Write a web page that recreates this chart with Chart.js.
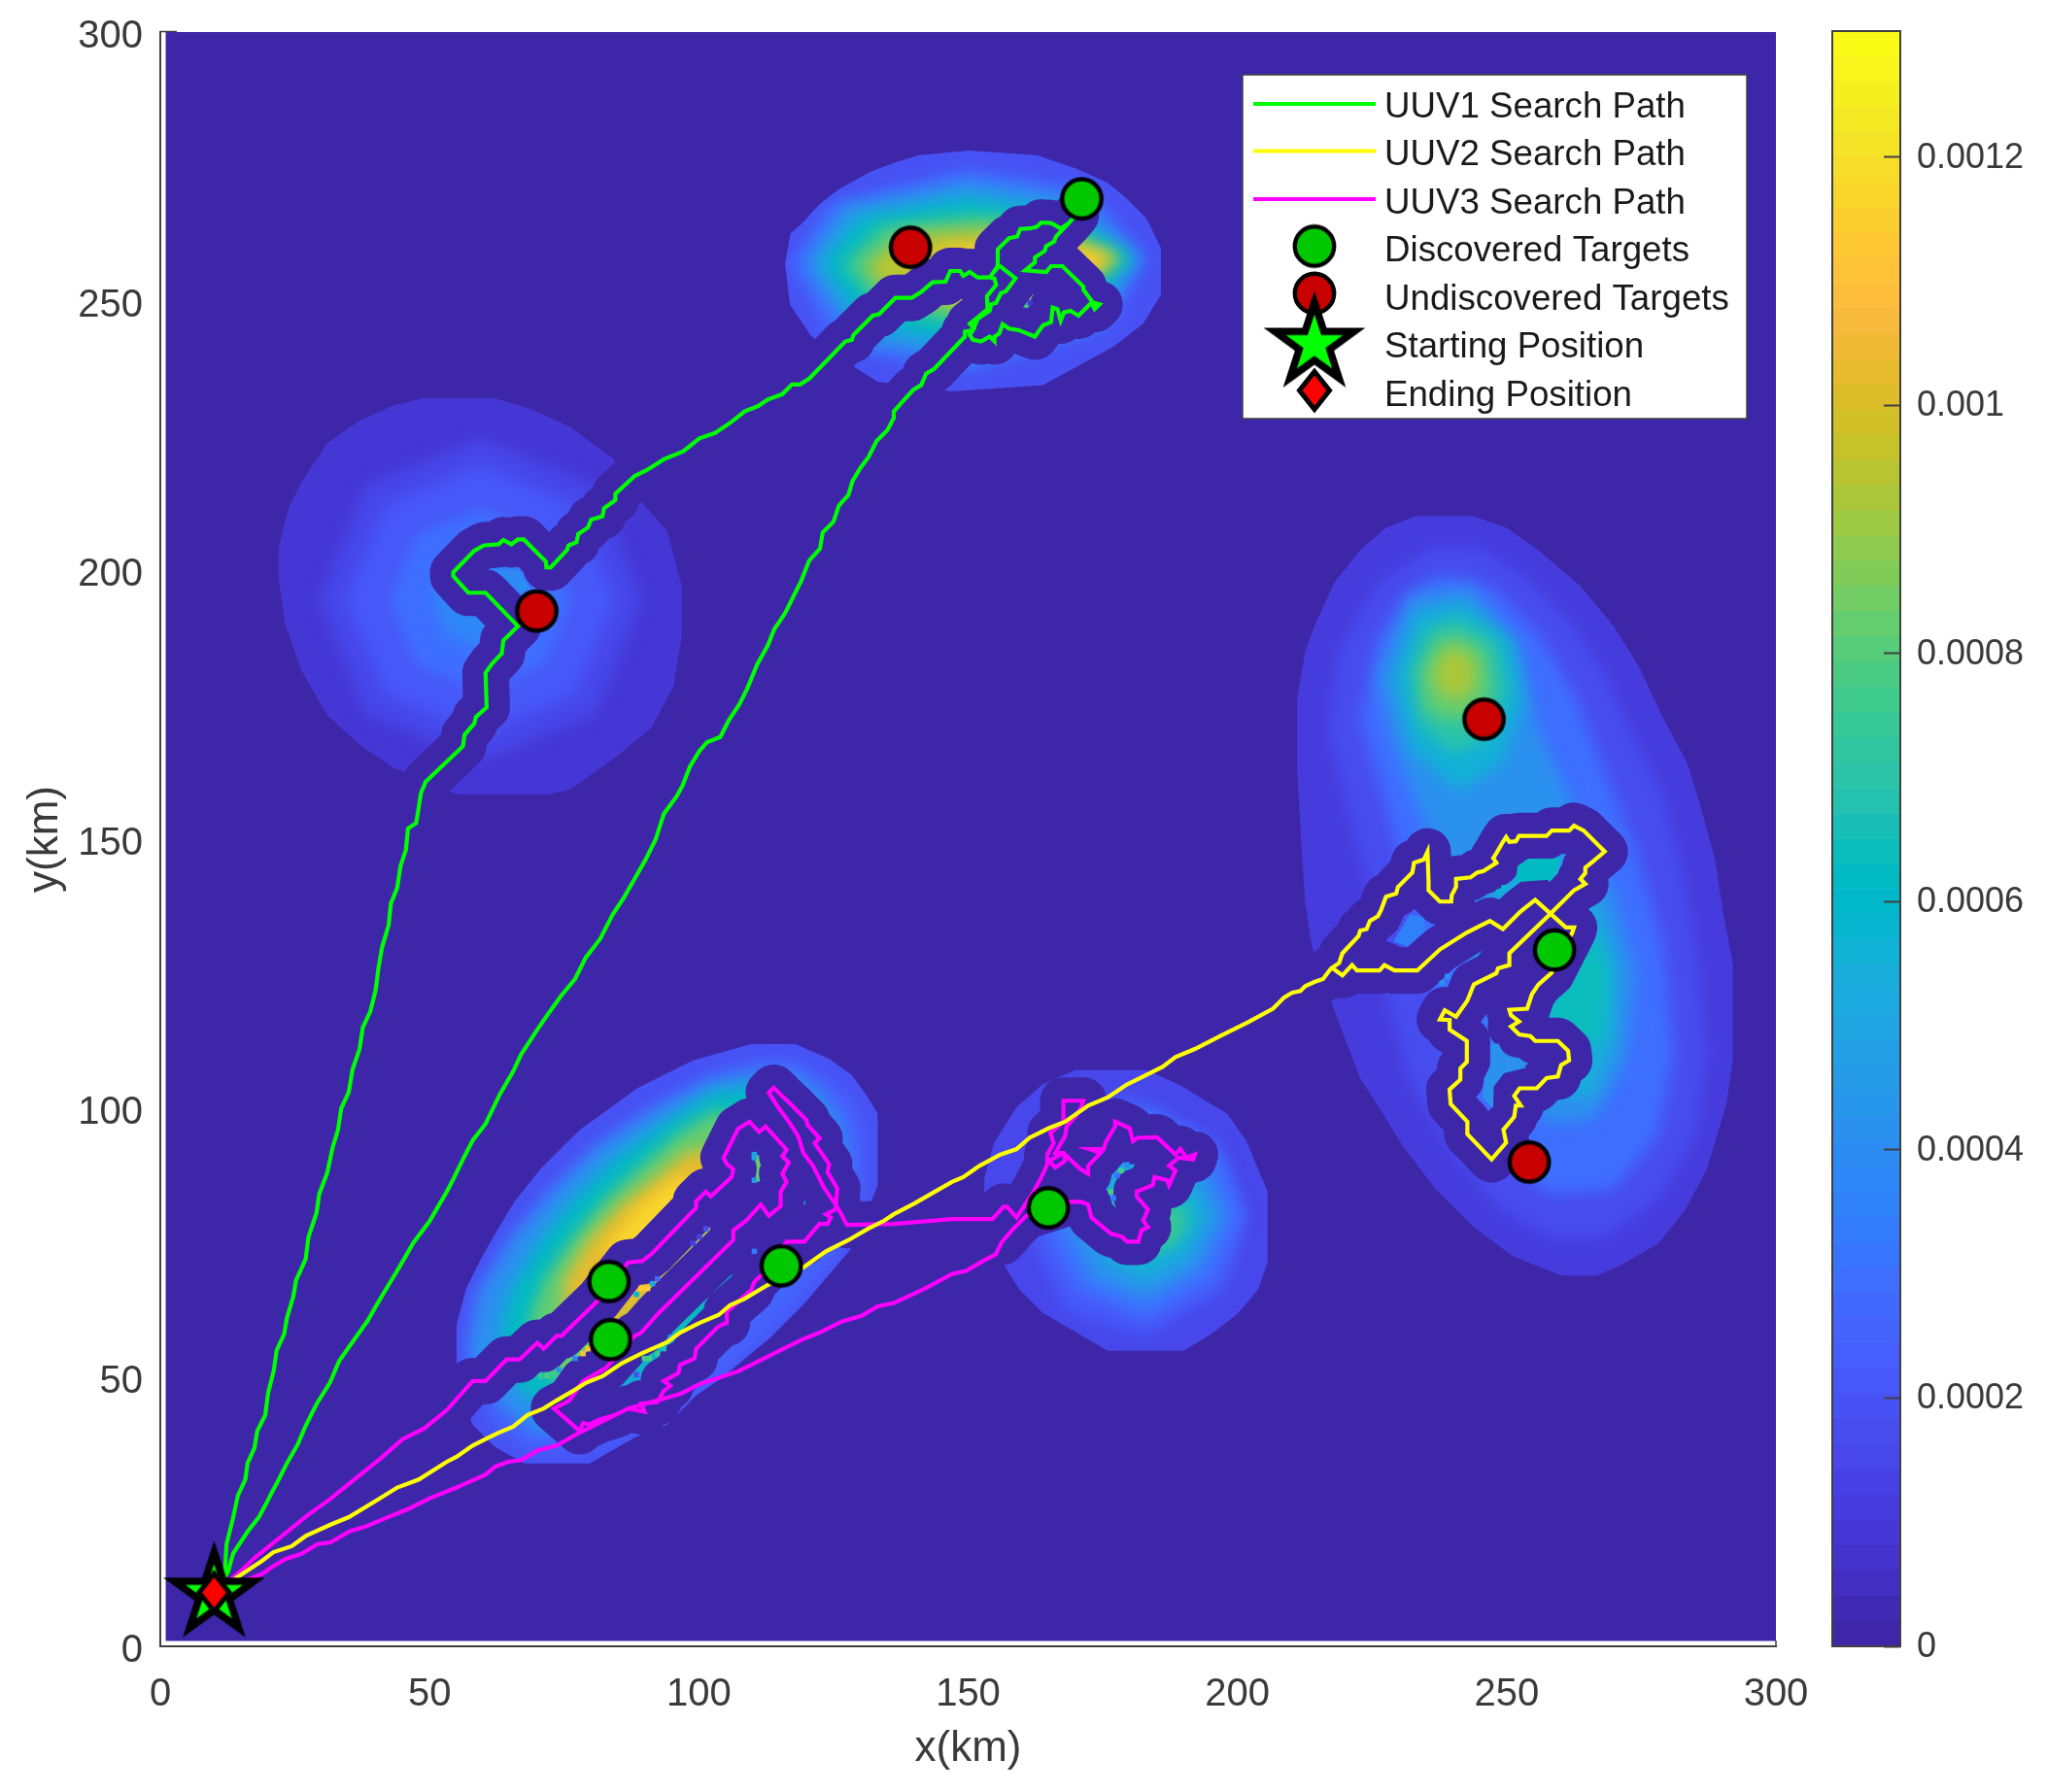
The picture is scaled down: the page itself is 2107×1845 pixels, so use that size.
<!DOCTYPE html>
<html><head><meta charset="utf-8">
<style>html,body{margin:0;padding:0;background:#fff;width:2107px;height:1845px;overflow:hidden}
canvas{position:absolute;top:0;display:block}</style>
<script src="https://cdn.jsdelivr.net/npm/chart.js@4/dist/chart.umd.js"></script>
</head><body>
<canvas id="main" width="2107" height="1845" style="left:0"></canvas>
<canvas id="bar" width="247" height="1845" style="left:1860px"></canvas>
<script>
// ---------- text ----------
const legendLabels = ['UUV1 Search Path','UUV2 Search Path','UUV3 Search Path','Discovered Targets','Undiscovered Targets','Starting Position','Ending Position'];
const xTitle = 'x(km)', yTitle = 'y(km)';
const colorbarTicks = [0,0.0002,0.0004,0.0006,0.0008,0.001,0.0012];
const colorbarMax = 0.0013017;
// ---------- colormap (64 steps) ----------
const parula = [[.2422,.1504,.6603],[.2504,.165,.7076],[.2578,.1818,.7511],[.2647,.1978,.7952],[.2706,.2147,.8364],[.2751,.2342,.871],[.2783,.2559,.8991],[.2803,.2782,.9221],[.2813,.3006,.9414],[.281,.3228,.9579],[.2795,.3447,.9717],[.276,.3667,.9829],[.2699,.3892,.9906],[.2602,.4123,.9952],[.244,.4358,.9988],[.2206,.4603,.9973],[.1963,.4847,.9892],[.1834,.5074,.9798],[.1786,.5289,.9682],[.1764,.5499,.952],[.1687,.5703,.9359],[.154,.5902,.9218],[.146,.6091,.9079],[.138,.6276,.8973],[.1248,.6459,.8883],[.1113,.6635,.8763],[.0952,.6798,.8598],[.0689,.6948,.8394],[.0297,.7082,.8163],[.0036,.7203,.7917],[.0067,.7312,.766],[.0433,.7411,.7394],[.0964,.75,.712],[.1408,.7584,.6842],[.1717,.767,.6554],[.1938,.7758,.6251],[.2161,.7843,.5923],[.247,.7918,.5567],[.2906,.7973,.5188],[.3406,.8008,.4789],[.3909,.8029,.4354],[.4456,.8024,.3909],[.5044,.7993,.348],[.5616,.7942,.3045],[.6174,.7876,.2612],[.672,.7793,.2227],[.7242,.7698,.191],[.7738,.7598,.1646],[.8203,.7498,.1535],[.8634,.7406,.1596],[.9035,.733,.1774],[.9393,.7288,.21],[.9728,.7298,.2394],[.9956,.7434,.2371],[.997,.7659,.2199],[.9952,.7893,.2028],[.9892,.8136,.1885],[.9786,.8386,.1766],[.9676,.8639,.1643],[.961,.889,.1537],[.9597,.9135,.1423],[.9628,.9373,.1265],[.9691,.9606,.1064],[.9769,.9839,.0805]];
const col = i => { const c = parula[i]; return `rgb(${Math.round(c[0]*255)},${Math.round(c[1]*255)},${Math.round(c[2]*255)})`; };
// ---------- search paths (km) ----------
const pathUUV1 = [[10,10],[12,14],[12.3,19],[13.5,23.8],[14.4,28],[15.8,31],[16.2,34],[17.5,36.9],[18,40],[19.5,43],[20,47],[21.1,51.4],[21.6,55],[23,58],[23.5,61],[24.7,65],[25.2,68],[27,72],[27.5,76],[29,80.5],[29.5,84],[31,88],[32,92.7],[33,96],[33.6,100],[35,103],[35.7,107.2],[37,111],[37.6,115],[39,118],[40,122],[40.5,126],[41.2,130],[42.4,134],[42.8,138],[44,141],[44.6,145],[45.6,148],[46,152],[47.5,153],[47.8,154.7],[48.4,158.6],[49.3,160.7],[56.2,167.3],[56.5,169.4],[58.3,171.5],[58.6,172.7],[60.6,174.5],[60.4,180.9],[61.6,182.6],[63.4,184.5],[63.7,186.9],[66.4,189.6],[60.4,195.8],[57.2,195.8],[54.4,198.9],[54.4,199.6],[58.3,203.6],[60.1,204.6],[62.8,204.8],[63.7,205.6],[65.2,204.8],[66.4,205.7],[67.5,205.7],[71.6,201.6],[71.7,200.5],[72.5,200.5],[75.5,203.7],[75.8,204.6],[77.3,205.2],[77.6,206.7],[79.4,207.9],[80,209.4],[82.1,210],[82.4,211.5],[84.5,213],[84.5,214.2],[88.1,217.5],[90.2,218.5],[93.5,220.6],[97.1,222.1],[100.1,224.5],[103,225.5],[106,227.5],[108.5,229.5],[111,230.5],[112.8,231.7],[115.5,232.7],[117.3,234.5],[118.8,234.5],[120.5,235.6],[127.2,242.5],[128.4,242.8],[128.7,243.7],[132.3,247.3],[133.5,247.6],[136.5,250.6],[139.5,250.6],[141.3,251.7],[143.4,253.5],[145.8,253.6],[146.7,255.6],[148.5,255.6],[149.1,254.7],[150.3,255.4],[151.8,254.4],[154,254.4],[155.5,256.5],[155.5,259.6],[157.6,261.7],[159.1,262],[159.7,263.4],[161.5,263.5],[162.7,263.8],[163.6,264.6],[165.4,264.5],[167.2,263.5],[168.7,264.5],[170,266],[168.7,264.5],[166.3,262],[166,261.1],[164.5,260.2],[164.2,259.3],[162.4,258.1],[162.4,257.2],[160.6,255.7],[164.5,255.4],[165.4,256.5],[167.5,256.5],[171.4,252.7],[171.4,252.1],[173.2,249.7],[174.4,249.4],[173.5,248.5],[172.9,249.7],[170.5,247.3],[169,248.2],[167.8,247.9],[167.2,246.4],[166.6,248.5],[165.7,248.8],[165.4,246.1],[163.9,245.5],[162.4,243.4],[159.4,244.6],[157.6,244.9],[156.4,245.7],[155.8,244],[154.9,243.4],[154.9,242.5],[154,243.4],[152.4,242.5],[150.9,242.8],[150.3,243.7],[151.1,244.9],[150.3,245.8],[151.8,247],[153.6,248.5],[153.5,250.9],[155.2,253],[154.9,254.2],[154,254.4],[155.8,256.6],[158.8,254.2],[157,251.8],[156.1,251.5],[155.2,249.7],[154.3,249.4],[154,248.2],[153.1,247.6],[151.8,246.7],[150.9,244.6],[149.4,244.3],[149.4,243.4],[143.7,237.4],[142.2,236.5],[141.3,234.4],[139.8,233.5],[136.2,229.5],[136.2,228.3],[135,226],[133,224],[131.5,221],[130,219],[128.5,216.5],[127.8,214],[126,212],[125,209],[123,207],[122.5,204],[120.5,201.8],[119,198],[117.5,195],[116,192],[114,189],[112.8,186],[110.8,182.4],[109,178],[107.5,175],[105.5,172],[104,169],[101.5,168],[100.1,166.4],[98.3,163.4],[97,160],[95.9,158],[93.5,154.7],[92,150],[90,146],[88,142.5],[86,139],[84,136],[81.7,131.5],[79,128],[77,124],[74.5,121],[72,117.5],[70,114.6],[67,110],[65.5,106.8],[63,102.5],[60.4,97.1],[58,94],[56.2,90.5],[54.5,87],[53.2,84.5],[50,79],[47,75],[45,71.5],[42.9,68],[40.5,64],[38.5,60.5],[36,57],[33.2,53],[31.5,49],[29,45],[27,41],[25.5,37.5],[23.5,34],[22,31],[20.4,28],[19.5,26.2],[18.3,24],[16.2,21.3],[13.5,17.2],[12.6,13.9],[10,10]];
const pathUUV2 = [[10,10],[18.9,15.9],[21,17.5],[24.4,18.6],[27,20.5],[31.6,22.6],[35,24],[40.6,27.4],[44,29.5],[48,31],[53.2,34.3],[55,35.2],[58,37.3],[60.4,38.5],[62.8,39.7],[65.5,40.8],[68.2,43],[71.2,44.2],[73.6,45.7],[76.7,47.5],[79.1,49],[82.1,50.2],[85.7,52.6],[89.3,54.4],[94.1,56.5],[96.5,58.3],[100.1,60.1],[103.7,61.6],[105.8,63.4],[108.5,64.6],[112.7,67.1],[119.4,70.4],[123.6,73.4],[127.8,75.5],[131.4,77.6],[134.4,79.1],[136.2,80.3],[140,82.3],[144,84.6],[147,86.3],[149.1,87.2],[152.1,89.3],[156,91.4],[159,92.4],[161.4,94.5],[165,96.3],[168,97.5],[172.3,100.5],[175.9,102],[179.5,104.4],[182.5,105.9],[186.1,107.7],[188.5,109.5],[192.1,111],[197,113.5],[202,116],[206.6,118.5],[208.7,120.6],[210.2,121.5],[211.7,121.8],[212.6,122.7],[214.4,123.5],[215.9,124],[217.4,126],[218.9,127],[219.5,128.8],[222.5,132],[222.8,133],[224,133.3],[224.6,134.8],[226.1,135.7],[226.7,136.9],[227.6,139.3],[229.5,139.9],[229.8,141.1],[232.5,143.8],[232.8,145.6],[234.6,146.2],[235.3,147.7],[235.5,142],[235.5,140.5],[237.6,138.4],[239.7,138.4],[239.8,139.6],[240.6,141.1],[240.6,142.6],[243.3,142.9],[244.5,143.8],[245.7,144.1],[248.1,145.6],[247.5,146.5],[248.1,147.4],[249.3,149.5],[249.9,150.4],[250.5,149.5],[251.7,149.6],[252.3,150.6],[257.4,150.6],[258.4,151.6],[261.6,151.6],[262.5,152.5],[264.3,151.6],[268.2,147.7],[266.1,145.9],[264.6,144.7],[264.6,143.7],[263.7,142.6],[264.6,141.7],[262.5,140.5],[258,136],[250.5,128.8],[250.5,126.6],[248.4,126],[248.1,125.1],[243.9,123],[242.7,120],[240.6,117],[238.5,118.2],[237.6,116.5],[239.4,116.4],[239.4,114.6],[242.6,112.5],[242.6,108.6],[241.4,107.4],[241.4,105.3],[239.4,103.5],[239.6,100.8],[242.7,97.5],[242.7,95.2],[247.2,90.5],[249.9,93.6],[249.4,96],[251.4,98.4],[251.7,100.5],[252.6,100.5],[251.4,102.3],[252.4,103.7],[255.6,103.7],[257.4,105.6],[259.5,105.9],[260.1,108],[261.6,108.9],[261.4,110.7],[259.5,112.5],[255.3,112.5],[254.4,113.4],[252.3,113.7],[250.8,115.2],[252.3,116.1],[250.8,117.3],[250.5,118.3],[253.8,118.5],[254.7,121.2],[255.9,123],[258.3,125.1],[262.2,132.7],[262.5,133.6],[261,133.6],[255.3,138.7],[252.6,136.6],[249.3,133.3],[246.9,134.8],[242.7,132.7],[237.6,129.5],[233.4,125.6],[229.2,125.6],[227.3,126.6],[226.4,125.6],[222.2,125.6],[221.3,126.6],[219.5,124.7],[217.7,126]];
const pathUUV3 = [[10,10],[14.4,13.5],[17.7,16.6],[22.6,20.5],[27.4,24.4],[31.6,27.4],[36,31],[41,35],[45,38.5],[49,40.5],[53.2,43.9],[58,49.3],[60.4,49.3],[64.3,53.3],[66.7,53.3],[70,56.4],[71.2,55.3],[73.6,57.7],[74.5,57.7],[81.4,64.4],[86.8,71.3],[89.5,71.6],[91.4,73.1],[99.5,81.5],[99.5,82.7],[101.3,84.5],[102.2,83.6],[106.1,87.2],[106.4,88.7],[105.2,89.6],[104.6,90.8],[106.4,94.4],[107.3,96.2],[109.4,97.5],[111.2,95.6],[112.4,96.6],[116.3,92.3],[115.5,91.1],[116.7,89.9],[115.5,87.8],[116.3,86.3],[115.2,84.5],[115.2,81.8],[113,80],[111.5,82.1],[108.8,79.1],[106.4,77.3],[106.4,75.5],[92.3,61.7],[89.3,58.3],[88.1,57.7],[82.7,51.7],[78.5,49.3],[76,45.7],[73.1,44.2],[77.9,40],[78.5,41.5],[79.6,41.2],[81.5,42.1],[84.5,43],[86.9,44.2],[89.9,43.6],[89.3,45.1],[92.3,45.4],[93.5,47.5],[94.7,48.4],[93.5,49.3],[96.2,50.8],[96.5,52.3],[99.2,53.5],[99.5,55.3],[103.7,59.5],[105.2,60.1],[105.2,62.2],[109.7,66.2],[110.3,67.7],[111.8,69.2],[116.3,75.2],[119.6,75.2],[122.4,78.5],[123.9,78.5],[124.5,79.7],[123.6,80.3],[125.4,81.2],[125.7,85.1],[123.9,88.1],[124.2,89.6],[121.5,93.5],[122.4,94.4],[120.2,96.9],[120,97.8],[117,100.8],[115.1,102.6],[113.9,103.8],[113,102.9],[114.5,100.5],[117,97.1],[118.5,94.7],[119.4,91.7],[121.2,89.3],[123.3,85.1],[125.4,82.1],[126.3,80.6],[127.5,78.3],[136.2,78.5],[147,79.4],[154.5,79.4],[156.6,81.7],[157.2,81.7],[159,79.7],[162,84.2],[163.5,87],[164.7,89.6],[164.7,91.4],[165.9,93.5],[165.3,95.4],[167.7,97.5],[167.7,101.4],[171.4,101.4],[171,100.2],[170.1,98.7],[168.3,96.6],[168,94.8],[166.2,91.7],[167.7,91.7],[168,90.2],[166.2,89],[165,90.2],[167.7,91.7],[170.8,88.7],[172.3,87.8],[172.3,89.3],[174.6,91.7],[172.5,92.4],[175.2,92.4],[175.5,93.6],[177.3,96.6],[177.3,97.5],[180,96.3],[180.6,93.9],[181.5,94.5],[185.1,94.6],[188.5,91.4],[189.4,92.4],[190.6,90.8],[192.1,91.4],[191.8,90.5],[189.1,90.8],[187.3,89.3],[188.5,88.4],[187.3,85.7],[187,86.6],[184.6,87.2],[184.3,85.7],[181.3,84.5],[181.3,83.6],[183.4,81.2],[182.5,79.1],[183.4,77.9],[182.2,77.3],[181.6,75.2],[179.5,75.2],[178.6,76.1],[176.5,76.7],[172.9,79.7],[172.3,82.1],[171,82.6],[168.9,82.6],[160.8,80],[158.4,77.6],[156.3,75.2],[155.1,72.8],[152.7,71.6],[149.7,69.8],[147,69.2],[142,66.5],[136.2,63.8],[133.2,63.2],[130.2,61.4],[126.6,60.4],[122.4,58.3],[119.4,57.1],[115.7,55.3],[112.1,53.5],[107.3,51.1],[103.7,49.9],[100.1,48.7],[96.5,46.9],[92.3,45.7],[86.9,44.2],[77.3,39.4],[73.6,37.3],[70,36.4],[67,34.6],[64.6,34.3],[62.2,33.4],[60.4,31.9],[55,29.5],[50,27.5],[46,25.5],[41.8,23.8],[38.2,22.3],[35.2,21.4],[31.6,19.3],[29.2,19],[26.2,17.2],[23.2,16.2],[20.2,14.4],[19,13.5],[10,10]];
// stretches of each path that actually swept the field clear (transit legs did not)
const sweptUUV1 = pathUUV1;
const sweptUUV2 = pathUUV2.slice(pathUUV2.findIndex(p=>p[0]===215.9));
const sweptUUV3 = pathUUV3.slice(0,pathUUV3.findIndex(p=>p[0]===155.1));
// ---------- targets and positions (km) ----------
const discoveredTargets = [[171.1,269],[258.9,129.4],[83.3,67.8],[83.6,57],[115.3,70.7],[164.9,81.5]];
const undiscoveredTargets = [[139.3,260],[69.9,192.4],[245.8,172.3],[254.2,90]];
const startPosition = [[10,9.7]];
const endPosition = [[10,10]];
// ---------- probability field: outer outlines and contour levels (km) ----------
const fieldFrame = [[1,1],[300,1],[300,300],[1,300]];
const outlineA = [[116,256.9],[117,262.6],[118.8,264.1],[122.4,268],[126,270.8],[132,274.1],[136.8,275.9],[141,277.1],[150,278],[162.7,277.1],[169.9,274.7],[175.9,272],[179.5,269],[183.1,265.4],[185.8,259.9],[185.8,251.2],[182.5,245.8],[177.1,241.6],[171.1,238.3],[163.9,234.4],[147,233.2],[133.2,235],[129,237.7],[120.9,243.4],[116.9,249.4]];
const levelsA = [[14,[[117,257],[124,268],[150,274.5],[172,271],[183,258],[176,245],[150,237],[126,241]]],
 [22,[[120,257],[127,267.5],[150,272],[170,269],[182,258],[174,246],[150,239],[129,243]]],
 [30,[[123,257],[130,265.5],[150,269],[168,266],[180.5,258],[172,249],[150,242],[131,246]]],
 [38,[[127,257],[134,264],[152,266],[167,264.5],[179,258],[170,251],[150,245.5],[133,249]]],
 [46,[[131,256.5],[138,262.5],[153,263.5],[167,262.5],[178,258],[169,252],[150,248.5],[136,250.5]]],
 [55,[[140,256],[146,260],[158,261],[167,261],[177,258],[168,253],[152,250.5],[142,252]]]];
const outlineB = [[22,204.3],[23.8,211.5],[26.2,216.3],[31,223.6],[37,227.8],[43,230.5],[49,232],[61.9,232],[68.9,229.9],[76.1,226.6],[83.9,220.9],[89.9,212],[94.1,207.3],[96.8,197.1],[96.8,187.5],[95.3,178.4],[91.1,170.6],[84.5,165.2],[76.1,159.2],[71.9,158.3],[55,158.3],[43,163.4],[37,167.6],[31,173],[26.2,181.4],[23.2,189.9],[22,198.3]];
const levelsB = [[7,[[29.5,194.5],[38,215.5],[59.5,224.5],[81,215.5],[89.5,194.5],[81,173.5],[59.5,164.5],[38,173.5]]],
 [10,[[34.5,194.5],[42,212],[59.5,219.5],[77,212],[84.5,194.5],[77,177],[59.5,169.5],[42,177]]],
 [14,[[42.5,194.5],[47.5,206.5],[59.5,211.5],[71.5,206.5],[76.5,194.5],[71.5,182.5],[59.5,177.5],[47.5,182.5]]],
 [18,[[50.5,194.5],[53,201],[59.5,203.5],[66,201],[68.5,194.5],[66,188],[59.5,185.5],[53,188]]]];
const outlineC = [[233,210],[243.9,210],[249.9,207.9],[255.9,203.7],[263.7,197],[269.7,189.8],[274.6,182],[278.8,173],[283.6,164],[286,156.1],[288.7,146.2],[290.2,136.3],[292,127],[292,109.2],[290.8,100.8],[287.2,88.7],[283,80.9],[278.2,74.9],[271,70.7],[266.7,68.9],[260.1,68.9],[251.1,72.5],[243.9,77.9],[236.7,85.1],[230.7,93],[227,99],[222.8,105.6],[219.8,113.4],[218,118.2],[213.8,130.3],[212.6,138],[212,147.1],[211.1,162.8],[211.1,176],[212.6,185],[214.4,189.8],[218,197.7],[222.8,203.7],[227.6,207.9]];
const levelsC = [[8,[[236,204],[245,204],[254,198],[262,190],[268,181],[273,170],[279,158],[282,146],[285,130],[287,110],[285,95],[278,83],[268,76],[258,76],[248,82],[240,92],[232,105],[228,120],[226,135],[222,150],[217,170],[219,185],[226,197]]],
 [14,[[238,199],[247,197],[256,188],[263,176],[268,163],[274,148],[279,130],[281,110],[278,95],[270,85],[258,84],[248,92],[240,105],[237,120],[233,135],[228,155],[223,172],[226,187],[232,196]]],
 [20,[[226,180],[232,195],[243,197],[252,186],[256,170],[263,155],[270,140],[274,125],[272,108],[266,98],[258,97],[250,105],[246,120],[240,135],[236,150],[230,165]]],
 [27,[[229,180],[233,192],[242,194],[251,187],[253,176],[249,164],[241,159],[232,167]]],
 [34,[[232,181],[235,189],[241,191],[248,187],[250,178],[247,169],[240,166],[234,171]]],
 [40,[[234,181],[237,187],[241,188],[246,185],[247,178],[245,173],[240,172],[235,174]]],
 [45,[[236.5,181],[238.5,185],[241,185.5],[244,183],[244,178.5],[241.5,176],[239,176.5],[237,178.5]]],
 [26,[[256,150],[266,140],[270,128],[270,112],[266,102],[258,103],[254,112],[250,125],[248,140]]],
 [31,[[260,128],[266,133],[269,125],[268,113],[262,110],[257,118]]]];
const outlineD = [[55,52.9],[55,59.8],[56.8,66.5],[59.8,72.5],[62.2,76.7],[65.8,82.7],[70.6,88.7],[77.9,96],[88.7,103.8],[98.9,108.9],[109.7,111.9],[117.9,111.9],[124.2,109.2],[128.4,106.2],[131.4,102],[133.2,99],[133.2,85.7],[131.7,81.8],[128.1,73.7],[119.4,63.5],[113.3,57.4],[104.3,49.9],[99.5,46.6],[94.1,41.2],[88.1,38.8],[79.7,34],[67.6,34],[62.2,37],[58,41.2],[56.2,46]];
const levelsD = [[12,[[56.2,54.4],[58,65.3],[64.6,76.1],[72.4,85.1],[82.1,94.1],[91.7,100.8],[101.3,106.2],[110.3,109.2],[118.1,109.2],[124.2,105.6],[129,100.8],[130.8,93.5],[130.8,84.5],[125.4,72.5],[116.3,61.6],[107.3,53.2],[98.3,46],[89.3,40.6],[79.7,36.4],[68.2,36.4],[61.6,41.2],[59.2,47.2]]],
 [20,[[57.5,55],[59.5,66],[66,76.5],[73,84.5],[81.5,93],[91.5,99.5],[102,105],[110.9,106.8],[117,106.8],[122.4,103.2],[126.6,97.1],[127.8,89.3],[121.2,75.5],[113.3,66.5],[104.3,57.4],[95.3,50.8],[86.9,45.4],[79.7,40.6],[70,39.4],[64.6,43.6],[60,49]]],
 [30,[[63,58],[65,66],[71,76],[77.5,84],[85.5,91.5],[94,97.5],[102.5,103],[110.3,104],[116.3,103],[121.2,98.4],[124.2,93.5],[122.4,84.5],[115.7,75.5],[107.3,66.5],[98.9,57.4],[90.5,50.8],[82.1,46],[73.6,43.6],[66.5,47.5]]],
 [40,[[69,62],[71.5,68.5],[77,76.5],[83,83.5],[89.5,89.5],[96.5,95.5],[103,99.5],[113.3,97],[116.3,90.5],[110.3,78.5],[101.3,67.7],[92.3,57.4],[83.3,50.8],[74.9,48.4],[68,54.4]]],
 [50,[[75,68],[79.5,75.5],[85.5,82],[92,87],[98,92],[105,92.5],[106.1,83.3],[98.9,73.7],[90.5,63.4],[82.1,57.4],[75,60.4]]],
 [57,[[82,73],[86,78],[90,82.5],[96,87],[101,86.5],[97.7,77.3],[90.5,71.3],[85.7,71.3]]]];
const outlineE = [[169.9,107.1],[183.1,107.1],[189.1,104.4],[198.1,99],[201.7,93.9],[204.1,88.1],[205.6,84.5],[205.6,71.3],[203.8,66.2],[199.9,61.7],[195.1,58],[190,54.9],[175.9,54.9],[171.1,57.7],[163.8,62],[159.6,66.2],[156,71.9],[153,80.9],[153,86.9],[154.8,93.6],[159,100.2],[163.8,104.4]];
const levelsE = [[10,[[160,79],[164,94],[180,103],[195,95],[202,80],[198,66],[183,57.5],[168,62]]],
 [14,[[164,78],[168,93],[183,100],[197,92],[201,80],[196,68],[183,60.5],[170,66]]],
 [20,[[168,78],[172,90],[183,97],[194,90],[198,80],[193,70],[183,64],[173,68]]],
 [26,[[172,78],[175,88],[183,93],[191,88],[195,80],[191,72],[183,67.5],[176,71]]],
 [32,[[176,78],[178,85],[183,88],[189,86],[192,80],[189,75],[183,71.5],[178,73]]],
 [37,[[180,78],[183,83],[187,83],[190,79],[188,75],[183,74],[180,75]]]];
// unsearched islands left inside the searched swaths
const islandPolys = [[30,[[251.7,142],[252,145],[254,146.4],[260,146.4],[258.5,142.5]]],
 [17,[[229,131],[232,136],[234.5,135.5],[235,133],[231.5,130]]],
 [20,[[247,112],[248.5,112],[249.8,109.5],[253.5,108.5],[253.5,107.5],[249.5,106.5],[247.6,104],[247.5,100],[245.5,102],[246,106],[247,108]]],
 [19,[[62.3,199.8],[66.6,199.8],[68.7,196.5],[67,196]]]];
const islandCellX = [89.3,89.9,90.5,88.4,91.4,92.3,78.5,79.4,77,74,73,71.8,70.6,110.3,110.3,110.3,110.3,90.8,89.9,92.3,93.5,94.7,88.4,101.3,98.9,100.1,176.5,178.4,179.5,177.7,177,161.5,238,239,249.5,248.5];
const islandCellY = [66.5,66.5,66.5,65.4,67.4,68.3,54.4,55.3,53.5,51.4,50.3,50.3,50.2,90.8,91.4,86.6,73.4,53.5,53.5,54.4,55.3,57.4,50.5,77.6,74.9,76.1,84.5,88.4,89.5,87.5,83.3,249.7,123.3,124.5,141,140.2];
const islandCellLevel = [55,55,55,28,24,12,54,54,18,22,36,38,36,24,24,22,16,38,38,36,32,20,8,8,6,6,38,38,18,14,16,4,20,20,28,28];

const pts = a => a.map(p => ({x:p[0],y:p[1]}));
// ---------- marker icons ----------
function icon(w,h,draw){const c=document.createElement('canvas');c.width=w;c.height=h;const g=c.getContext('2d');g.translate(w/2,h/2);draw(g);return c;}
const circleIcon=(fill,dy=0)=>icon(52,52+2*Math.abs(dy),g=>{g.translate(0,dy);g.beginPath();g.arc(0,0,20.2,0,Math.PI*2);g.fillStyle=fill;g.fill();g.lineWidth=4.4;g.strokeStyle='#000';g.stroke();});
const starIcon=(dy=0)=>icon(120,124+2*Math.abs(dy),g=>{g.translate(0,dy);g.beginPath();for(let i=0;i<10;i++){const r=i%2?16.5:43,a=-Math.PI/2+i*Math.PI/5;g.lineTo(r*Math.cos(a),r*Math.sin(a));}g.closePath();g.fillStyle='#00FF00';g.fill();g.lineWidth=7.5;g.lineJoin='miter';g.miterLimit=10;g.strokeStyle='#000';g.stroke();});
const diamondIcon=(dy=0)=>icon(50,60+2*Math.abs(dy),g=>{g.translate(0,dy);g.beginPath();g.moveTo(0,-19.5);g.lineTo(15.5,0);g.lineTo(0,19.5);g.lineTo(-15.5,0);g.closePath();g.fillStyle='#FF0000';g.fill();g.lineWidth=5;g.lineJoin='miter';g.strokeStyle='#000';g.stroke();});
const lineIcon=(color,dy=0)=>icon(128,8+2*Math.abs(dy),g=>{g.fillStyle=color;g.fillRect(-63,dy-2,126,4);});

// ---------- datasets, in drawing order ----------
const datasets=[];
const BASE=col(0);
const poly=(p,i,outline,blur)=>datasets.push({data:pts(p),showLine:true,fill:'shape',borderWidth:0,pointRadius:0,backgroundColor:col(i),borderColor:col(i),outline:outline,blur:blur});
poly(fieldFrame,0);
[[outlineA,levelsA,9],[outlineB,levelsB,4],[outlineC,levelsC,5],[outlineD,levelsD,9],[outlineE,levelsE,7]].forEach(b=>{
  poly(b[0],b[2]);
  b[1].forEach(l=>poly(l[1],l[0],b[0],8));
});
[sweptUUV1,sweptUUV2,sweptUUV3].forEach(p=>datasets.push({data:pts(p),showLine:true,fill:false,pointRadius:0,borderWidth:48,borderColor:BASE,borderJoinStyle:'round',borderCapStyle:'round'}));
islandPolys.forEach(l=>poly(l[1],l[0]));
datasets.push({data:islandCellX.map((x,i)=>({x:x,y:islandCellY[i]})),showLine:false,pointStyle:'rect',pointRadius:3.9,pointBorderWidth:0,pointBackgroundColor:islandCellLevel.map(col)});
const idx={};
const lineDs=(label,p,color)=>{idx[label]=datasets.length;datasets.push({label:label,data:pts(p),showLine:true,fill:false,pointRadius:0,borderWidth:4.2,borderColor:color,borderJoinStyle:'miter'});};
lineDs(legendLabels[2],pathUUV3,'#FF00FF');
lineDs(legendLabels[1],pathUUV2,'#FFFF00');
lineDs(legendLabels[0],pathUUV1,'#00FF00');
const markDs=(label,p,ic)=>{idx[label]=datasets.length;datasets.push({label:label,data:pts(p),showLine:false,pointStyle:ic,pointRadius:20,clip:false});};
markDs(legendLabels[3],discoveredTargets,circleIcon('#00C800'));
markDs(legendLabels[4],undiscoveredTargets,circleIcon('#C80000'));
markDs(legendLabels[5],startPosition,starIcon());
markDs(legendLabels[6],endPosition,diamondIcon());
datasets.forEach((d,i)=>{d.order=datasets.length-i;});

const legendIcons=[lineIcon('#00FF00',-3.5),lineIcon('#FFFF00',-4.5),lineIcon('#FF00FF',-4.5),circleIcon('#00C800',-5.5),circleIcon('#C80000',-6.5),starIcon(-3.8),diamondIcon(-5.5)];

// soft contours: blur each level and keep it inside its outline
const contourBlur={id:'contourBlur',
 beforeDatasetDraw(c,a){const d=c.data.datasets[a.index];if(!d.blur)return;const g=c.ctx;g.save();g.beginPath();
   d.outline.forEach((p,i)=>{const x=c.scales.x.getPixelForValue(p[0]),y=c.scales.y.getPixelForValue(p[1]);i?g.lineTo(x,y):g.moveTo(x,y);});g.closePath();g.clip();g.filter=`blur(${d.blur}px)`;},
 afterDatasetDraw(c,a){const d=c.data.datasets[a.index];if(d.blur){c.ctx.restore();}}};
Chart.unregister(Chart.Filler);
Chart.register(contourBlur,Chart.Filler);

const plotArea={left:165,top:33,right:1828,bottom:1695};
const legendPlace={id:'legendPlace',
 beforeLayout(c){const l=c.legend;l._layers=()=>[{z:10,draw(){const g=c.ctx;g.save();g.fillStyle='#fff';g.fillRect(1279,77,519,354);g.strokeStyle='#404040';g.lineWidth=1.5;g.strokeRect(1279,77,519,354);g.restore();l.draw();}}];},
 afterLayout(c){
   const l=c.legend;l.left=1286.55;l.top=79.35;l.right=1796;l.bottom=500;l.width=510;l.height=421;
   Object.assign(c.chartArea,plotArea);c.chartArea.width=plotArea.right-plotArea.left;c.chartArea.height=plotArea.bottom-plotArea.top;
   const x=c.scales.x,y=c.scales.y;
   x.left=plotArea.left;x.right=plotArea.right;x.width=plotArea.right-plotArea.left;x.top=plotArea.bottom;x.bottom=1845;x.height=150;x.configure();
   y.top=plotArea.top;y.bottom=plotArea.bottom;y.height=plotArea.bottom-plotArea.top;y.left=0;y.right=plotArea.left;y.width=plotArea.left;y.configure();
 },
 afterDraw(c){const g=c.ctx;g.save();g.strokeStyle='#404040';g.lineWidth=1.5;g.beginPath();g.moveTo(165,32.5);g.lineTo(182,32.5);g.moveTo(1828,1689);g.lineTo(1828,1695);g.stroke();g.restore();}};

const FONT='"Liberation Sans",Arial,sans-serif', INK='#3a3a3a';
new Chart(document.getElementById('main'),{type:'scatter',data:{datasets:datasets},plugins:[legendPlace],
 options:{responsive:false,animation:false,devicePixelRatio:1,events:[],
  layout:{padding:{left:0,top:33,right:279,bottom:0}},
  plugins:{tooltip:{enabled:false},
   legend:{display:true,position:'chartArea',align:'start',
    labels:{usePointStyle:true,pointStyleWidth:107.3,boxHeight:36.7,padding:12.8,color:'#1a1a1a',font:{family:FONT,size:36.7},
     generateLabels:()=>legendLabels.map((t,i)=>({text:t,pointStyle:legendIcons[i],fontColor:'#1a1a1a',hidden:false,datasetIndex:idx[t]}))}}},
  scales:{
   x:{type:'linear',min:0,max:300,afterFit(s){s.height=150;},
      grid:{display:false},border:{display:true,color:'#404040',width:2},
      ticks:{stepSize:50,padding:18,maxRotation:0,color:INK,font:{family:FONT,size:40}},
      title:{display:true,text:xTitle,color:INK,font:{family:FONT,size:44},padding:{top:0,bottom:18}}},
   y:{type:'linear',min:0,max:300,afterFit(s){s.width=165;},
      grid:{display:false},border:{display:true,color:'#404040',width:2},
      ticks:{stepSize:50,padding:10,labelOffset:5,color:INK,font:{family:FONT,size:40}},
      title:{display:true,text:yTitle,color:INK,font:{family:FONT,size:44},padding:{top:20,bottom:0}}}
  }}});

// ---------- colour bar ----------
const barStep=colorbarMax/parula.length;
const barArea={left:26,top:32,right:96,bottom:1695};
const barFrame={id:'barFrame',
 afterLayout(c){Object.assign(c.chartArea,barArea);c.chartArea.width=barArea.right-barArea.left;c.chartArea.height=barArea.bottom-barArea.top;
   const x=c.scales.x,y=c.scales.y;
   x.left=barArea.left;x.right=barArea.right;x.width=barArea.right-barArea.left;x.top=barArea.bottom;x.bottom=barArea.bottom;x.configure();
   y.top=barArea.top;y.bottom=barArea.bottom;y.height=barArea.bottom-barArea.top;y.left=barArea.right;y.right=247;y.width=151;y.configure();},
 afterDatasetsDraw(c){const a=c.chartArea,g=c.ctx;g.save();g.strokeStyle='#404040';g.lineWidth=2;g.strokeRect(a.left,a.top,a.right-a.left,a.bottom-a.top);g.restore();}};
new Chart(document.getElementById('bar'),{type:'bar',plugins:[barFrame],
 data:{labels:['level'],datasets:parula.map((c,i)=>({data:[barStep],backgroundColor:col(i),stack:'s',barPercentage:1,categoryPercentage:1,borderWidth:0}))},
 options:{responsive:false,animation:false,devicePixelRatio:1,events:[],
  layout:{padding:{left:26,top:32,right:0,bottom:150}},
  plugins:{legend:{display:false},tooltip:{enabled:false}},
  scales:{x:{display:false,stacked:true},
   y:{stacked:true,position:'right',min:0,max:colorbarMax,afterFit(s){s.width=151;},
      afterBuildTicks(s){s.ticks=colorbarTicks.map(v=>({value:v}));},
      grid:{z:1,drawOnChartArea:false,drawTicks:true,tickLength:-17,tickWidth:2,tickColor:'#404040'},
      border:{display:false},
      ticks:{padding:34,labelOffset:1,color:INK,font:{family:FONT,size:36},callback:v=>String(v)}}}}});
</script>
</body></html>
